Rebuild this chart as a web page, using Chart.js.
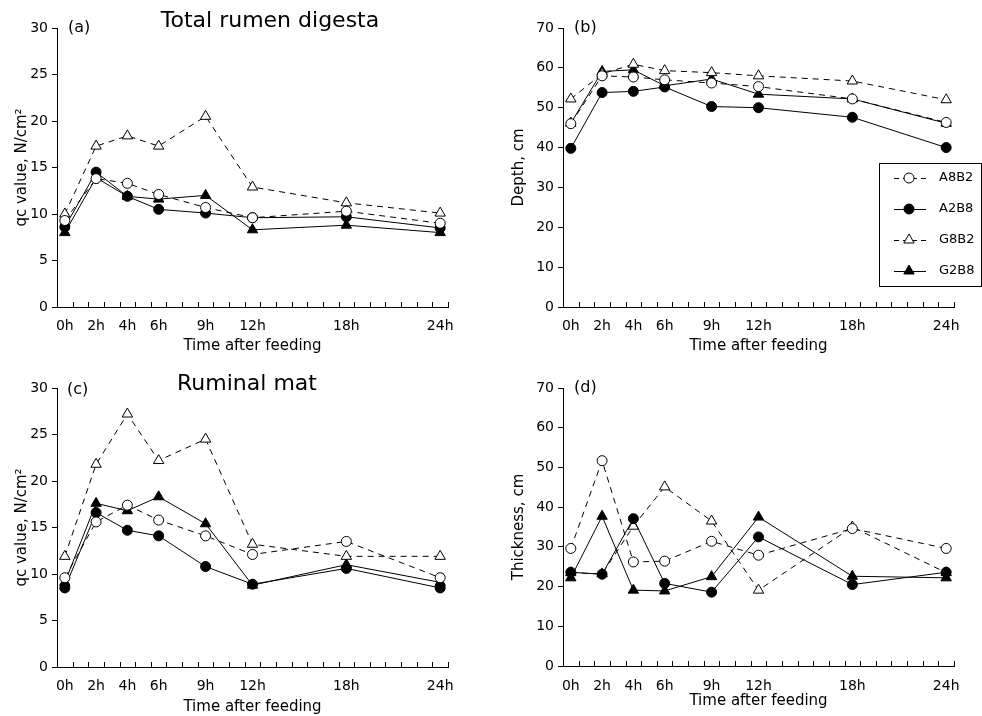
<!DOCTYPE html>
<html>
<head>
<meta charset="utf-8">
<script src="https://cdn.jsdelivr.net/npm/chart.js@4.4.0/dist/chart.umd.min.js"></script>
<style>
body { margin: 0; background: #fff; }
.panel { position: absolute; width: 491px; height: 358px; }
</style>
</head>
<body>
<div class="panel" style="left:0;top:0"><canvas id="chartA" width="491" height="358"></canvas></div>
<div class="panel" style="left:491px;top:0"><canvas id="chartB" width="491" height="358"></canvas></div>
<div class="panel" style="left:0;top:358px"><canvas id="chartC" width="491" height="358"></canvas></div>
<div class="panel" style="left:491px;top:358px"><canvas id="chartD" width="491" height="358"></canvas></div>
<script>
// time after feeding (h)
const hours = [0, 2, 4, 6, 9, 12, 18, 24];
const seriesNames = ['A8B2', 'A2B8', 'G8B2', 'G2B8'];

// (a) total rumen digesta, qc value N/cm2
const totalA8B2 = [9.3, 13.8, 13.3, 12.1, 10.7, 9.6, 10.3, 9.0];
const totalA2B8 = [8.6, 14.5, 11.9, 10.5, 10.1, 9.6, 9.7, 8.5];
const totalG8B2 = [10.0, 17.3, 18.4, 17.3, 20.5, 12.9, 11.2, 10.1];
const totalG2B8 = [8.0, 13.9, 11.9, 11.6, 12.0, 8.3, 8.8, 8.0];

// (b) depth, cm
const depthA8B2 = [46.0, 58.0, 57.7, 57.0, 56.2, 55.3, 52.2, 46.3];
const depthA2B8 = [39.8, 53.8, 54.1, 55.2, 50.3, 50.0, 47.6, 40.0];
const depthG8B2 = [52.2, 58.5, 60.9, 59.3, 58.8, 58.0, 56.7, 52.0];
const depthG2B8 = [46.1, 59.1, 59.5, 55.5, 57.2, 53.4, 52.2, 46.1];

// (c) ruminal mat, qc value N/cm2
const matA8B2 = [9.6, 15.6, 17.4, 15.8, 14.1, 12.1, 13.5, 9.6];
const matA2B8 = [8.5, 16.6, 14.7, 14.1, 10.8, 8.9, 10.6, 8.5];
const matG8B2 = [11.9, 21.8, 27.2, 22.2, 24.5, 13.2, 11.9, 11.9];
const matG2B8 = [9.1, 17.6, 16.8, 18.3, 15.4, 8.8, 11.0, 9.1];

// (d) thickness, cm
const thickA8B2 = [29.6, 51.7, 26.2, 26.4, 31.4, 27.9, 34.6, 29.6];
const thickA2B8 = [23.6, 23.1, 37.1, 20.8, 18.6, 32.5, 20.5, 23.6];
const thickG8B2 = [23.5, 23.2, 35.2, 45.1, 36.5, 19.1, 35.0, 23.5];
const thickG2B8 = [22.2, 37.7, 19.1, 18.9, 22.5, 37.5, 22.6, 22.2];

const FONT = "'DejaVu Sans', sans-serif";
Chart.defaults.font.family = FONT;
Chart.defaults.color = '#000';

const styles = [
    { dash: [6, 5], pointStyle: 'circle', radius: 5, fill: '#fff' },
    { dash: [], pointStyle: 'circle', radius: 5, fill: '#000' },
    { dash: [6, 5], pointStyle: 'triangle', radius: 6, fill: '#fff' },
    { dash: [], pointStyle: 'triangle', radius: 6, fill: '#000' }
];

function makeDatasets(series) {
    return series.map((vals, i) => ({
        label: seriesNames[i],
        data: hours.map((h, j) => ({ x: h, y: vals[j] })),
        borderColor: '#000',
        borderWidth: 1,
        borderDash: styles[i].dash,
        pointStyle: styles[i].pointStyle,
        pointRadius: styles[i].radius,
        pointBackgroundColor: styles[i].fill,
        pointBorderColor: '#000',
        pointBorderWidth: 1,
        tension: 0
    }));
}

function drawLegend(chart, ctx) {
    ctx.lineWidth = 1;
    ctx.strokeStyle = '#000';
    ctx.setLineDash([]);
    ctx.strokeRect(388.5, 163.5, 102, 123);
    chart.data.datasets.forEach((ds, i) => {
        const y = 178 + i * 31;
        ctx.setLineDash(styles[i].dash.length ? [5, 4] : []);
        ctx.beginPath();
        ctx.moveTo(403, y + 0.5);
        ctx.lineTo(435, y + 0.5);
        ctx.stroke();
        ctx.setLineDash([]);
        ctx.fillStyle = styles[i].fill;
        ctx.strokeStyle = '#000';
        Chart.helpers.drawPoint(ctx, { pointStyle: styles[i].pointStyle, radius: styles[i].radius, borderWidth: 1, rotation: 0 }, 418, y);
        ctx.fillStyle = '#000';
        ctx.font = '13px ' + FONT;
        ctx.textAlign = 'left';
        ctx.textBaseline = 'middle';
        ctx.fillText(ds.label, 448, y);
    });
}

function overlay(cfg) {
    return {
        id: 'overlay',
        afterDraw(chart) {
            const ctx = chart.ctx;
            const x = chart.scales.x;
            const area = chart.chartArea;
            ctx.save();
            // small inward ticks between the hours
            ctx.strokeStyle = '#000';
            ctx.lineWidth = 1;
            ctx.beginPath();
            for (let v = 0.5; v <= 24.5; v += 1) {
                const px = Math.round(x.getPixelForValue(v)) + 0.5;
                ctx.moveTo(px, area.bottom);
                ctx.lineTo(px, area.bottom - 5);
            }
            ctx.stroke();
            ctx.fillStyle = '#000';
            ctx.textBaseline = 'middle';
            ctx.textAlign = 'left';
            ctx.font = '16px ' + FONT;
            ctx.fillText(cfg.label, cfg.labelX, cfg.labelY);
            if (cfg.title) {
                ctx.font = '22px ' + FONT;
                ctx.textAlign = 'center';
                ctx.fillText(cfg.title, cfg.titleX, cfg.titleY);
            }
            if (cfg.legend) drawLegend(chart, ctx);
            ctx.restore();
        }
    };
}

function makeChart(id, series, cfg) {
    return new Chart(document.getElementById(id), {
        type: 'line',
        data: { datasets: makeDatasets(series) },
        options: {
            responsive: false,
            animation: false,
            events: [],
            layout: { padding: { left: cfg.padLeft, right: cfg.padRight, top: cfg.padTop, bottom: 0 } },
            plugins: { legend: { display: false }, tooltip: { enabled: false } },
            scales: {
                x: {
                    type: 'linear',
                    min: -0.5,
                    max: 24.5,
                    afterBuildTicks: s => { s.ticks = hours.map(h => ({ value: h })); },
                    afterFit: s => { s.height = cfg.xHeight; },
                    grid: { display: false },
                    border: { display: true, color: '#000', width: 1 },
                    ticks: { autoSkip: false, maxRotation: 0, padding: cfg.tickPad, font: { size: 14 }, callback: v => v + 'h' },
                    title: { display: true, text: 'Time after feeding', font: { size: 15 }, padding: { top: 0, bottom: cfg.xTitlePad } }
                },
                y: {
                    min: 0,
                    max: cfg.yMax,
                    afterFit: s => { s.width = cfg.yWidth; },
                    grid: { drawOnChartArea: false, tickLength: 5, color: '#000' },
                    border: { display: true, color: '#000', width: 1 },
                    ticks: { stepSize: cfg.yStep, padding: 4, font: { size: 14 } },
                    title: { display: true, text: cfg.yTitle, font: { size: 15 }, padding: { top: 4, bottom: 0 } }
                }
            }
        },
        plugins: [overlay(cfg)]
    });
}

makeChart('chartA', [totalA8B2, totalA2B8, totalG8B2, totalG2B8], {
    yMax: 30, yStep: 5, yTitle: 'qc value, N/cm²',
    padLeft: 9, yWidth: 48, padRight: 43, padTop: 28, xHeight: 51, tickPad: 3, xTitlePad: 3,
    label: '(a)', labelX: 68, labelY: 28,
    title: 'Total rumen digesta', titleX: 270, titleY: 21
});

makeChart('chartB', [depthA8B2, depthA2B8, depthG8B2, depthG2B8], {
    yMax: 70, yStep: 10, yTitle: 'Depth, cm',
    padLeft: 15, yWidth: 57, padRight: 28, padTop: 28, xHeight: 51, tickPad: 3, xTitlePad: 3,
    label: '(b)', labelX: 83, labelY: 28, legend: true
});

makeChart('chartC', [matA8B2, matA2B8, matG8B2, matG2B8], {
    yMax: 30, yStep: 5, yTitle: 'qc value, N/cm²',
    padLeft: 9, yWidth: 48, padRight: 43, padTop: 30, xHeight: 49, tickPad: 3, xTitlePad: 0,
    label: '(c)', labelX: 67, labelY: 32,
    title: 'Ruminal mat', titleX: 247, titleY: 26
});

makeChart('chartD', [thickA8B2, thickA2B8, thickG8B2, thickG2B8], {
    yMax: 70, yStep: 10, yTitle: 'Thickness, cm',
    padLeft: 15, yWidth: 57, padRight: 28, padTop: 30, xHeight: 50, tickPad: 4, xTitlePad: 6,
    label: '(d)', labelX: 83, labelY: 30
});
</script>
</body>
</html>
